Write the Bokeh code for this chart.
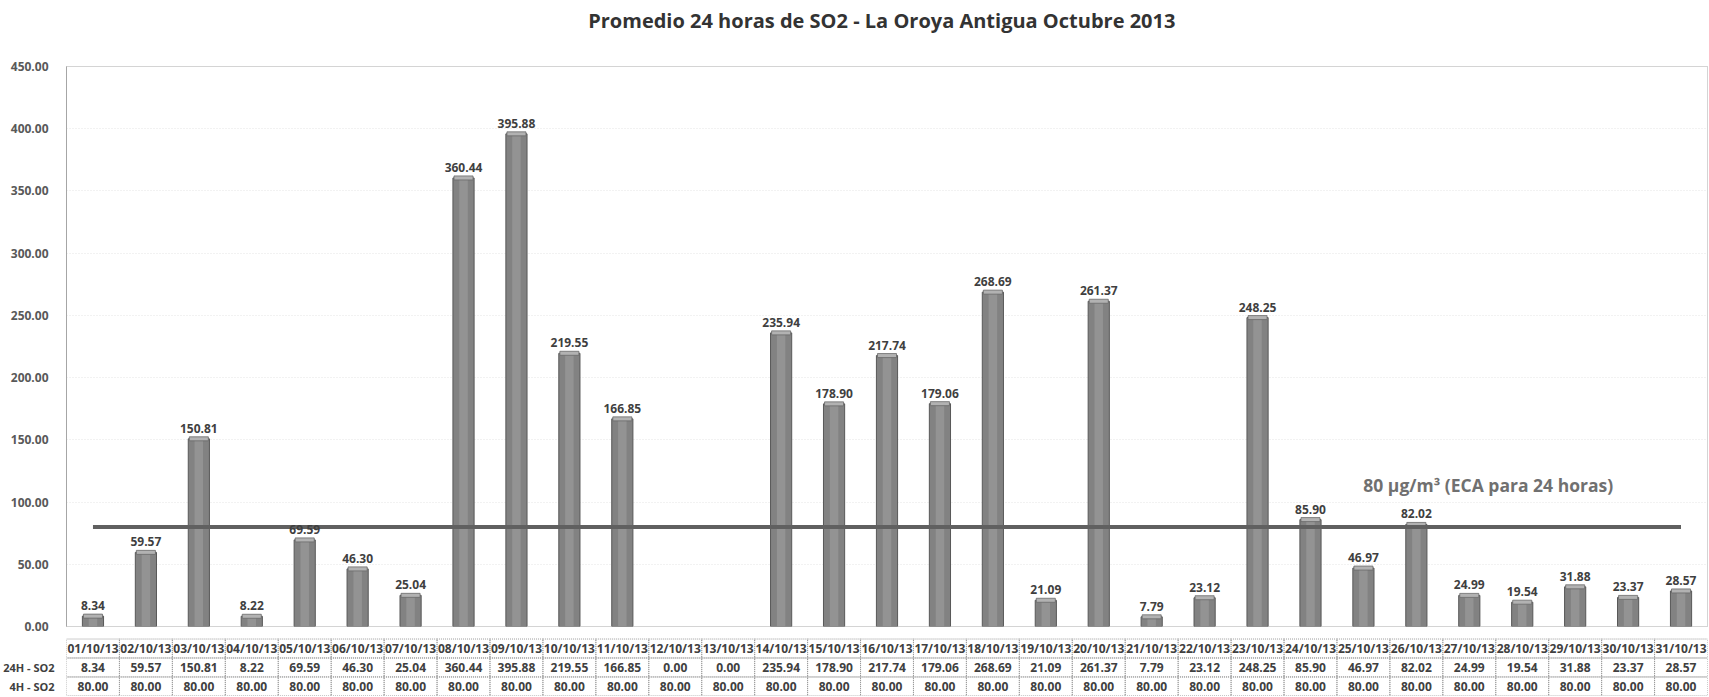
from bokeh.plotting import figure
from bokeh.models import Range1d, FixedTicker, NumeralTickFormatter, Label, ColumnDataSource
from bokeh.layouts import column
from bokeh.core.properties import value
from bokeh.embed import file_html
from bokeh.resources import INLINE

# ---------------- data ----------------
dates = ["01/10/13", "02/10/13", "03/10/13", "04/10/13", "05/10/13", "06/10/13", "07/10/13",
         "08/10/13", "09/10/13", "10/10/13", "11/10/13", "12/10/13", "13/10/13", "14/10/13",
         "15/10/13", "16/10/13", "17/10/13", "18/10/13", "19/10/13", "20/10/13", "21/10/13",
         "22/10/13", "23/10/13", "24/10/13", "25/10/13", "26/10/13", "27/10/13", "28/10/13",
         "29/10/13", "30/10/13", "31/10/13"]
so2_24h = [8.34, 59.57, 150.81, 8.22, 69.59, 46.30, 25.04, 360.44, 395.88, 219.55, 166.85,
           0.00, 0.00, 235.94, 178.90, 217.74, 179.06, 268.69, 21.09, 261.37, 7.79, 23.12,
           248.25, 85.90, 46.97, 82.02, 24.99, 19.54, 31.88, 23.37, 28.57]
eca_24h = [80.00, 80.00, 80.00, 80.00, 80.00, 80.00, 80.00, 80.00, 80.00, 80.00, 80.00,
           80.00, 80.00, 80.00, 80.00, 80.00, 80.00, 80.00, 80.00, 80.00, 80.00, 80.00,
           80.00, 80.00, 80.00, 80.00, 80.00, 80.00, 80.00, 80.00, 80.00]
y_ticks = [0, 50, 100, 150, 200, 250, 300, 350, 400, 450]
row_labels = ["24H - SO2", "4H - SO2"]
title_text = "Promedio 24 horas de SO2 - La Oroya Antigua  Octubre  2013"
eca_text = "80 \u00b5g/m\u00b3  (ECA para 24 horas)"

FONT = "Open Sans"

# ---------------- layout ----------------
W = 1708
LEFT = 60
RIGHT = 1
n = len(dates)
xc = [i + 0.5 for i in range(n)]
xr = Range1d(0, n)

# ---------------- title strip ----------------
h = figure(width=W, height=40, output_backend="svg", toolbar_location=None,
           x_range=xr, y_range=Range1d(0, 1),
           x_axis_location=None, y_axis_location=None,
           min_border_left=LEFT, min_border_right=RIGHT, min_border_top=0, min_border_bottom=0)
h.outline_line_color = None
h.xgrid.visible = False
h.ygrid.visible = False
h.text(x=[n / 2], y=[0.5], text=[title_text], text_align="center", text_baseline="middle",
       text_font=value(FONT), text_font_style="bold", text_font_size="20px", text_color="#333333")

# ---------------- chart ----------------
p = figure(width=W, height=597, output_backend="svg", toolbar_location=None,
           x_range=xr, y_range=Range1d(0, 450),
           x_axis_location=None, min_border_left=LEFT, min_border_right=RIGHT,
           min_border_top=26, min_border_bottom=11)
p.background_fill_color = "white"
p.border_fill_color = "white"
p.outline_line_color = "#a8a8a8"
p.outline_line_dash = "1 1"
p.outline_line_width = 1

p.yaxis.ticker = FixedTicker(ticks=y_ticks)
p.yaxis.formatter = NumeralTickFormatter(format="0.00")
p.yaxis.major_label_text_font = FONT
p.yaxis.major_label_text_font_style = "bold"
p.yaxis.major_label_text_font_size = "12px"
p.yaxis.major_label_text_color = "#595959"
p.yaxis.axis_line_color = "#a6a6a6"
p.yaxis.major_tick_line_color = None
p.yaxis.minor_tick_line_color = None
p.yaxis.major_label_standoff = 12
p.xgrid.visible = False
p.ygrid.ticker = FixedTicker(ticks=y_ticks)
p.ygrid.grid_line_color = "#e4e4e4"
p.ygrid.grid_line_dash = "1 2"

bx = [x for x, v in zip(xc, so2_24h) if v > 0]
bv = [v for v in so2_24h if v > 0]
src = ColumnDataSource(dict(x=bx, top=bv, lab=["%.2f" % v for v in bv]))

p.vbar(x="x", top="top", bottom=0, width=0.40, source=src,
       fill_color="#828282", line_color="#585858", line_width=1)
p.vbar(x="x", top="top", bottom=0, width=0.16, source=src,
       fill_color="#939393", line_color=None)
p.rect(x="x", y="top", width=0.36, height=4, height_units="screen", source=src,
       fill_color="#b2b2b2", line_color="#6a6a6a", line_width=0.8)

p.line(x=xc, y=eca_24h, line_color="#606060", line_width=4)

p.text(x="x", y="top", text="lab", source=src, text_align="center", text_baseline="bottom",
       y_offset=-6, text_font=value(FONT), text_font_style="bold", text_font_size="12px",
       text_color="#3f3f3f")

p.add_layout(Label(x=26.9, y=114, text=eca_text, text_align="center", text_baseline="middle",
                   text_font=FONT, text_font_style="bold", text_font_size="17.5px",
                   text_color="#707070"))

# ---------------- table ----------------
t = figure(width=W, height=59, output_backend="svg", toolbar_location=None,
           x_range=xr, y_range=Range1d(-0.03, 3.08),
           x_axis_location=None, y_axis_location="left",
           min_border_left=LEFT, min_border_right=RIGHT, min_border_top=0, min_border_bottom=0)
t.outline_line_color = None
t.xgrid.visible = False
t.ygrid.visible = False
t.background_fill_color = "white"
t.border_fill_color = "white"
t.yaxis.ticker = FixedTicker(ticks=[1.5, 0.5])
t.yaxis.major_label_overrides = {1.5: row_labels[0], 0.5: row_labels[1]}
t.yaxis.axis_line_color = None
t.yaxis.major_tick_line_color = None
t.yaxis.minor_tick_line_color = None
t.yaxis.major_label_standoff = 6
t.yaxis.major_label_text_font = FONT
t.yaxis.major_label_text_font_style = "bold"
t.yaxis.major_label_text_font_size = "11px"
t.yaxis.major_label_text_color = "#404040"

cell_style = dict(fill_alpha=0, line_color="#9a9a9a", line_dash="1 1", line_width=1)
for row_y in (2.5, 1.5, 0.5):
    t.rect(x=xc, y=[row_y] * n, width=1, height=1, **cell_style)

txt = dict(text_align="center", text_baseline="middle", text_font=value(FONT),
           text_font_style="bold", text_font_size="12px", text_color="#404040")
t.text(x=xc, y=[2.5] * n, text=dates, **txt)
t.text(x=xc, y=[1.5] * n, text=["%.2f" % v for v in so2_24h], **txt)
t.text(x=xc, y=[0.5] * n, text=["%.2f" % v for v in eca_24h], **txt)

layout = column(h, p, t, spacing=0)
open("out.html", "w").write(file_html(layout, INLINE))
